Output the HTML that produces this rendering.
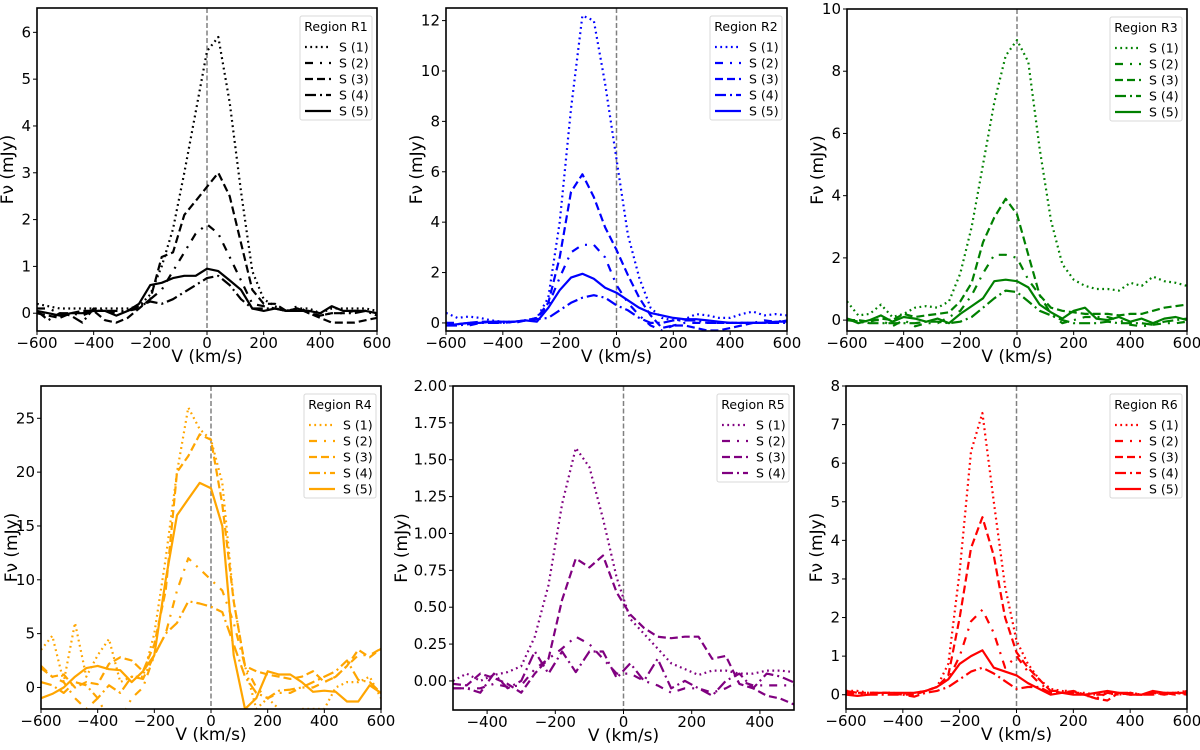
<!DOCTYPE html>
<html><head><meta charset="utf-8"><style>
body{margin:0;background:#fff;font-family:"Liberation Sans","DejaVu Sans",sans-serif}
svg text{font-family:"DejaVu Sans","Liberation Sans",sans-serif}
</style></head><body>
<svg id="fig" width="1200" height="745" viewBox="0 0 1200 745" xmlns="http://www.w3.org/2000/svg"></svg>
<script>
const vGrid = [-600,-560,-520,-480,-440,-400,-360,-320,-280,-240,-200,-160,-120,-80,-40,0,40,80,120,160,200,240,280,320,360,400,440,480,520,560,600];
const vGrid5 = [-500,-460,-420,-380,-340,-300,-260,-220,-180,-140,-100,-60,-20,20,60,100,140,180,220,260,300,340,380,420,460,500];

const r1s1=[0.2,0.15,0.1,0.1,0.1,0.1,0.1,0.1,0.1,0.15,0.4,1.0,1.8,3.0,4.3,5.6,5.9,4.5,2.6,0.9,0.3,0.15,0.05,0.1,0.1,0.0,0.1,0.1,0.1,0.1,0.05];
const r1s2=[0.1,0.1,0,0,-0.05,0.05,0.05,0,0.05,0.1,0.3,0.5,0.9,1.3,1.7,1.9,1.7,1.2,0.7,0.2,0.15,0.1,0.05,0.15,0.0,-0.05,0.0,0.0,0.05,0.05,0.0];
const r1s3=[0,-0.05,-0.1,0,0.05,0.05,-0.15,-0.2,-0.1,0.1,0.3,1.2,1.3,2.1,2.4,2.7,3.0,2.5,1.5,0.5,0.2,0.2,0.05,0.1,0.0,-0.1,-0.2,-0.2,-0.2,-0.15,-0.1];
const r1s4=[0.05,-0.15,0,-0.05,-0.2,0.1,0.05,0.05,0.05,0.15,0.25,0.2,0.3,0.45,0.6,0.75,0.8,0.6,0.3,0.1,0.1,0.1,0.05,0.1,0.0,-0.05,0.0,0.0,0.0,0.05,-0.05];
const r1s5=[0.05,0,-0.05,0,0,0.05,0.05,-0.05,0.05,0.2,0.6,0.65,0.75,0.8,0.8,0.95,0.9,0.7,0.5,0.1,0.05,0.1,0.05,0.05,0.05,0.0,0.15,0.05,0.05,0.05,0.0];

const r2s1=[0.4,0.2,0.25,0.2,0.1,0.05,0.05,0.1,0.2,1.0,4.0,8.5,12.2,12.0,9.5,6.5,3.5,1.8,0.6,0.2,0.1,0.15,0.35,0.3,0.2,0.2,0.35,0.45,0.3,0.35,0.3];
const r2s2=[0,0,-0.1,0,0.05,0.05,0,0.1,0.2,0.7,1.8,2.8,3.1,3.1,2.6,1.5,0.8,0.3,-0.1,-0.3,-0.1,0,0,0,0,0,0,0,0.1,0.05,0.1];
const r2s3=[0.0,-0.05,0,0.05,0.05,0,0.05,0.1,0.2,0.8,2.6,5.2,5.9,5.0,3.8,2.9,1.9,1.0,0.3,-0.2,-0.1,-0.1,-0.2,-0.3,-0.3,-0.2,-0.1,0,0,0,0.1];
const r2s4=[-0.1,-0.1,-0.05,0,0,0,0.05,0.1,0.15,0.2,0.5,0.8,1.0,1.1,1.0,0.7,0.5,0.2,0.0,0,0.1,0.1,0.1,0,0,0,0,0,0,0,0];
const r2s5=[-0.1,-0.05,0,0,0.05,0.05,0.05,0.1,0.05,0.6,1.3,1.8,1.95,1.75,1.4,1.2,0.9,0.6,0.4,0.3,0.2,0.15,0.15,0.1,0.05,0.0,0.0,0.0,0.0,0.05,0.05];

const r3s1=[0.6,0.15,0.2,0.5,0.1,0.2,0.4,0.45,0.4,0.6,1.5,3.0,5.0,7.0,8.5,9.0,8.3,5.5,3.2,1.8,1.3,1.1,1.0,1.0,0.95,1.2,1.1,1.4,1.25,1.2,1.1];
const r3s2=[0,-0.05,0,0,-0.2,0,-0.2,-0.1,-0.1,0.1,0.3,0.8,1.5,2.1,2.1,2.0,1.3,0.8,0.2,-0.1,0.0,0.1,0.1,0.1,0.0,-0.15,-0.2,-0.15,-0.1,-0.1,-0.05];
const r3s3=[0,0,-0.05,0.05,0,0.2,0.1,0.15,0.2,0.25,0.6,1.2,2.5,3.3,3.9,3.4,2.1,0.8,0.4,0.3,0.25,0.2,0.2,0.2,0.15,0.2,0.2,0.3,0.4,0.45,0.5];
const r3s4=[0.05,-0.05,-0.1,-0.1,-0.1,-0.1,-0.1,-0.05,-0.05,-0.1,-0.05,0.1,0.4,0.7,0.95,0.9,0.6,0.3,0.15,0.0,-0.1,-0.1,-0.1,-0.05,-0.1,-0.1,-0.1,-0.15,-0.05,0.0,0.05];
const r3s5=[0.05,-0.1,0,0.15,-0.05,0.1,0.05,-0.05,0.05,-0.1,0.2,0.45,0.7,1.25,1.3,1.25,1.05,0.5,0.25,0.05,0.3,0.4,0.05,0.0,0.1,-0.05,0.05,-0.1,0.05,0.1,0.0];

const r4s1=[3.5,4.8,0.5,6,1,3,4.5,0.5,1,1,5,12,20,26,24,23,19,8,2,-2,-1,-2,-3,-2,-2,-2,0,0.5,0.5,1,-1];
const r4s2=[2,1,0.5,-1,-2,-1,-3,-3,-1,0,3,5,9,12,11,10,9,6,2,0,-1,-0.5,-0.5,0,0,0.5,1,2,3,3,3.6];
const r4s3=[1.8,1,1.2,0,0.5,0.3,2.2,2.8,2.5,1.5,4,9,20,21.5,23.5,23,17,8,2,1.5,1.2,1,0.8,1,1.5,0.5,1,2,3.5,2.8,3.6];
const r4s4=[0.5,0.2,-0.5,0.5,0.2,-1,0.2,-0.5,1,0.8,3,5,6,8,7.8,7.5,7,4,1,-0.5,-1,-0.3,-0.2,0,0.5,1,1.5,2.5,0.7,0.5,-0.5];
const r4s5=[-1,-0.6,0,1,1.8,2,1.7,1.6,0.5,1.5,3,10,16,17.5,19,18.5,15,3,-2,-1,1.5,1.2,1.2,0.5,-0.4,-0.3,-0.4,-1.3,-1.3,0.2,-0.5];

const r5s1=[0.0,0.05,0.0,0.04,0.06,0.1,0.3,0.65,1.2,1.58,1.45,1.1,0.7,0.42,0.32,0.22,0.12,0.08,0.04,0.07,0.07,0.05,0.05,0.07,0.07,0.06];
const r5s2=[-0.05,-0.05,-0.05,-0.02,-0.04,-0.03,0.08,0.15,0.22,0.3,0.25,0.15,0.05,0.05,0.0,-0.03,-0.08,-0.05,-0.05,-0.08,-0.05,0.0,-0.03,-0.03,-0.03,-0.03];
const r5s3=[-0.02,-0.03,0.05,0.02,-0.02,-0.08,0.05,0.15,0.55,0.83,0.77,0.85,0.6,0.45,0.36,0.3,0.29,0.3,0.3,0.15,0.17,-0.02,-0.05,-0.1,-0.12,-0.16];
const r5s4=[-0.05,-0.05,-0.08,0.05,-0.05,0.0,0.2,0.05,0.2,0.06,0.2,0.2,0.02,0.12,0.0,0.15,-0.05,0.0,-0.05,-0.1,0.0,0.05,-0.05,0.05,0.03,-0.01];

const r6s1=[0.1,0.1,0.05,0.05,0.05,0.03,0.05,0.1,0.2,0.8,3.2,6.3,7.3,5.0,2.8,1.4,0.8,0.4,0.15,0.1,0.05,0.05,0,0.05,0,0.05,0,0.05,0.05,0.05,0.1];
const r6s2=[0.05,0,0.05,0.05,0.05,0,0,0.1,0.2,0.4,1.0,1.9,2.2,1.6,0.7,1.0,0.6,0.3,0.1,0.1,0.1,-0.05,0,0,0.05,0.05,0,0.05,0.05,0,0.05];
const r6s3=[0.05,0.05,0.05,0.05,0.05,0,0,0.1,0.2,0.5,2.0,3.8,4.6,3.6,2.0,1.1,0.7,0.4,0.1,0.05,0.1,0,-0.1,-0.15,0.05,0,0,0.05,0,0.05,0];
const r6s4=[0.1,0.05,0,0,0,0,-0.05,0.05,0.1,0.2,0.4,0.6,0.7,0.55,0.35,0.15,0.2,0.2,0.05,0.05,0.05,0,-0.1,0.05,0,0.05,0,0,0.05,0,0.1];
const r6s5=[0,-0.03,0,0.05,0.05,0.05,0.05,0.1,0.2,0.4,0.8,1.0,1.15,0.7,0.6,0.5,0.3,0.15,0.0,0.05,0,0,0.05,0.1,0.05,0,0,0.1,0.05,0.05,0.05];

const xTicks=[-600,-400,-200,0,200,400,600];
const xTicks5=[-400,-200,0,200,400];
const yTicks1=[0,1,2,3,4,5,6];
const yTicks2=[0,2,4,6,8,10,12];
const yTicks3=[0,2,4,6,8,10];
const yTicks4=[0,5,10,15,20,25];
const yTicks5=[0,0.25,0.5,0.75,1.0,1.25,1.5,1.75,2.0];
const yTicks6=[0,1,2,3,4,5,6,7,8];
const seriesLabels=["S (1)","S (2)","S (3)","S (4)","S (5)"];

const NS="http://www.w3.org/2000/svg";
const fig=document.getElementById('fig');
const dashes=["1.8,3.5","8,7,2,7","8,4","11,4,2,4",""];
function mk(tag,attrs,parent){const e=document.createElementNS(NS,tag);for(const k in attrs)e.setAttribute(k,attrs[k]);(parent||fig).appendChild(e);return e;}

const panels=[
 {name:'R1',color:'#000000',L:37,R:377,T:8,B:331,x0:-600,x1:600,y0:-0.38,y1:6.52,xt:xTicks,yt:yTicks1,fmt:v=>String(v),v:vGrid,s:[r1s1,r1s2,r1s3,r1s4,r1s5]},
 {name:'R2',color:'#0000ff',L:446,R:787,T:8,B:331,x0:-600,x1:600,y0:-0.32,y1:12.5,xt:xTicks,yt:yTicks2,fmt:v=>String(v),v:vGrid,s:[r2s1,r2s2,r2s3,r2s4,r2s5]},
 {name:'R3',color:'#008000',L:847,R:1187,T:9,B:331,x0:-600,x1:600,y0:-0.35,y1:10,xt:xTicks,yt:yTicks3,fmt:v=>String(v),v:vGrid,s:[r3s1,r3s2,r3s3,r3s4,r3s5]},
 {name:'R4',color:'#ffa500',L:41,R:381,T:386,B:709,x0:-600,x1:600,y0:-2,y1:28,xt:xTicks,yt:yTicks4,fmt:v=>String(v),v:vGrid,s:[r4s1,r4s2,r4s3,r4s4,r4s5]},
 {name:'R5',color:'#800080',L:453,R:794,T:386,B:710,x0:-500,x1:500,y0:-0.197,y1:2.0,xt:xTicks5,yt:yTicks5,fmt:v=>v.toFixed(2),v:vGrid5,s:[r5s1,r5s2,r5s3,r5s4]},
 {name:'R6',color:'#ff0000',L:846,R:1187,T:386,B:709,x0:-600,x1:600,y0:-0.37,y1:8,xt:xTicks,yt:yTicks6,fmt:v=>String(v),v:vGrid,s:[r6s1,r6s2,r6s3,r6s4,r6s5]}
];

panels.forEach((p,pi)=>{
  const g=mk('g',{});
  
  
  const X=v=>p.L+(v-p.x0)/(p.x1-p.x0)*(p.R-p.L);
  const Y=v=>p.B-(v-p.y0)/(p.y1-p.y0)*(p.B-p.T);
  const cp=mk('clipPath',{id:'clip'+pi},g);
  mk('rect',{x:p.L,y:p.T,width:p.R-p.L,height:p.B-p.T},cp);
  const zl=mk('line',{x1:X(0),x2:X(0),y1:p.T,y2:p.B,stroke:'#808080','stroke-width':1.5,'stroke-dasharray':'5,2.5'},g);
  
  
  const sg=mk('g',{'clip-path':'url(#clip'+pi+')'},g);
  p.s.forEach((arr,si)=>{
    const d=arr.map((y,i)=>(i?'L':'M')+X(p.v[i]).toFixed(1)+','+Y(y).toFixed(1)).join(' ');
    const a={d:d,fill:'none',stroke:p.color,'stroke-width':2.2,'stroke-linejoin':'round'};
    if(dashes[si])a['stroke-dasharray']=dashes[si];
    const path=mk('path',a,sg);
    
    
  });
  const fr=mk('rect',{x:p.L,y:p.T,width:p.R-p.L,height:p.B-p.T,fill:'none',stroke:'#000','stroke-width':1.6},g);
  
  
  p.xt.forEach(v=>{
    mk('line',{x1:X(v),x2:X(v),y1:p.B,y2:p.B+4,stroke:'#000','stroke-width':1},g);
    const t=mk('text',{x:X(v),y:p.B+17,'font-size':15,'text-anchor':'middle',fill:'#000'},g);
    t.textContent=(v<0?'\u2212'+(-v):String(v));
    
    
  });
  p.yt.forEach(v=>{
    mk('line',{x1:p.L-4,x2:p.L,y1:Y(v),y2:Y(v),stroke:'#000','stroke-width':1},g);
    const t=mk('text',{x:p.L-6,y:Y(v)+5,'font-size':15,'text-anchor':'end',fill:'#000'},g);
    t.textContent=p.fmt(v);
    
    
  });
  const xl=mk('text',{x:(p.L+p.R)/2,y:p.B+31,'font-size':17,'text-anchor':'middle',fill:'#000'},g);
  xl.textContent='V (km/s)';
  
  
  const yx=p.L-(pi===4?46:24);
  const yl=mk('text',{x:yx,y:(p.T+p.B)/2,'font-size':17,'text-anchor':'middle',fill:'#000',transform:'rotate(-90 '+yx+' '+(p.T+p.B)/2+')'},g);
  yl.textContent='Fν (mJy)';
  
  
  const n=p.s.length;
  const lw=72, lh=24+16*n, lx=p.R-lw-5, ly=p.T+8;
  const lg=mk('g',{},g);
  
  
  mk('rect',{x:lx,y:ly,width:lw,height:lh,rx:2,fill:'#fff',stroke:'#d8d8d8','stroke-width':1},lg);
  const tt=mk('text',{x:lx+lw/2,y:ly+15,'font-size':12.5,'text-anchor':'middle',fill:'#000'},lg);
  tt.textContent='Region '+p.name;
  
  
  p.s.forEach((arr,si)=>{
    const yy=ly+31+16*si;
    const a={x1:lx+5,x2:lx+31,y1:yy,y2:yy,stroke:p.color,'stroke-width':2.2};
    if(dashes[si])a['stroke-dasharray']=dashes[si];
    mk('line',a,lg);
    const et=mk('text',{x:lx+39,y:yy+4.5,'font-size':12.5,fill:'#000'},lg);
    et.textContent=seriesLabels[si];
    
    
  });
});
</script>
</body></html>
